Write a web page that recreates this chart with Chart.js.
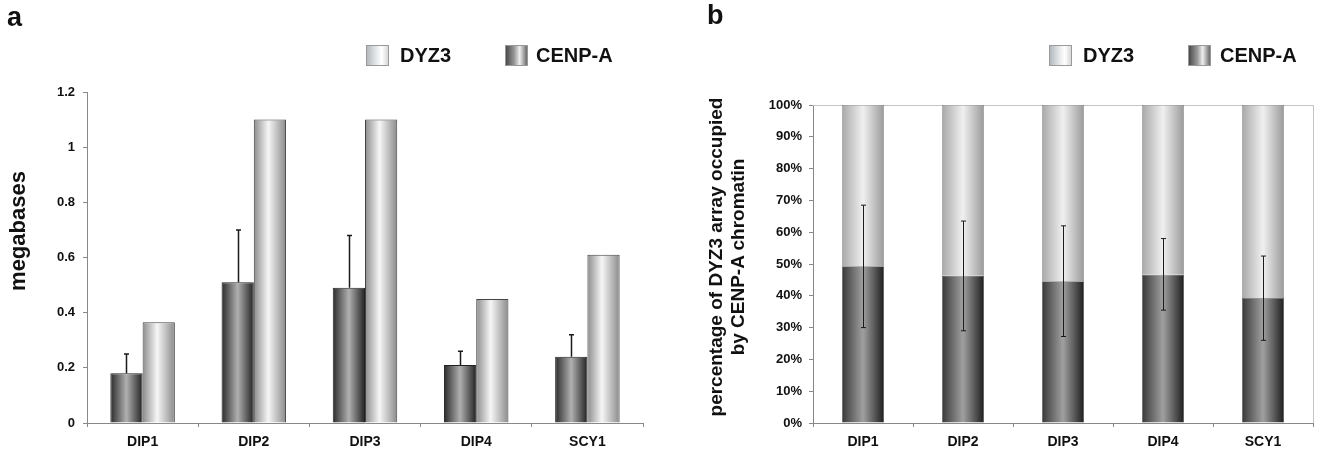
<!DOCTYPE html>
<html>
<head>
<meta charset="utf-8">
<script src="https://cdn.jsdelivr.net/npm/chart.js@4.4.1/dist/chart.umd.min.js"></script>
<style>
  html, body { margin: 0; padding: 0; background: #fff; }
  body { width: 1334px; height: 455px; position: relative; overflow: hidden;
         font-family: "Liberation Sans", Arial, sans-serif; font-weight: bold; color: #111; }
  .panel { position: absolute; top: 0; width: 667px; height: 455px; }
  .letter { position: absolute; font-size: 27px; line-height: 27px; }
  .legend { position: absolute; top: 45px; height: 21px; font-size: 20px; line-height: 21px; }
  .legend .box { position: absolute; top: 0; width: 23px; height: 21px; box-sizing: border-box; border: 1px solid #999; }
  .legend .txt { position: absolute; top: 0; white-space: nowrap; }
  .sw-dyz3 { background: linear-gradient(to right, #b4b9be 0%, #e6e9eb 45%, #ffffff 70%, #d8d8d8 100%); }
  .sw-cenpa { background: linear-gradient(to right, #4a4a4a 0%, #9a9a9a 40%, #eeeeee 65%, #6a6a6a 100%); }
  .ytitle { position: absolute; white-space: nowrap; text-align: center; transform: translate(-50%, -50%) rotate(-90deg); }
</style>
</head>
<body>

<div class="panel" style="left:0"><canvas id="chartA"></canvas></div>
<div class="panel" style="left:667px"><canvas id="chartB"></canvas></div>

<div class="letter" style="left:7px; top:4px;">a</div>
<div class="letter" style="left:707px; top:2px;">b</div>

<div class="legend" style="left:366px;">
  <div class="box sw-dyz3" style="left:0"></div><div class="txt" style="left:34px">DYZ3</div>
  <div class="box sw-cenpa" style="left:139px"></div><div class="txt" style="left:170px">CENP-A</div>
</div>
<div class="legend" style="left:1049px;">
  <div class="box sw-dyz3" style="left:0"></div><div class="txt" style="left:34px">DYZ3</div>
  <div class="box sw-cenpa" style="left:139px"></div><div class="txt" style="left:171px">CENP-A</div>
</div>

<div class="ytitle" style="left:18px; top:231px; font-size:22px;">megabases</div>
<div class="ytitle" style="left:727px; top:257px; font-size:19px; line-height:22px;">percentage of DYZ3 array occupied<br>by CENP-A chromatin</div>

<script>
// categories
const samples = ['DIP1', 'DIP2', 'DIP3', 'DIP4', 'SCY1'];

// panel a: megabases
const cenpaMb = [0.18, 0.51, 0.49, 0.21, 0.24];
const cenpaMbUpper = [0.25, 0.70, 0.68, 0.26, 0.32];
const dyz3Mb = [0.365, 1.10, 1.10, 0.45, 0.61];
const mbTicks = [0, 0.2, 0.4, 0.6, 0.8, 1, 1.2];

// panel b: percentage of DYZ3 array
const cenpaPct = [49.3, 46.3, 44.6, 46.6, 39.3];
const cenpaPctLow = [30.0, 29.0, 27.2, 35.5, 26.0];
const cenpaPctHigh = [68.5, 63.5, 62.0, 58.0, 52.5];
const dyz3Pct = cenpaPct.map(v => 100 - v);
const pctTicks = [0, 10, 20, 30, 40, 50, 60, 70, 80, 90, 100];

const FONT = '"Liberation Sans", Arial, sans-serif';

const darkStops = [[0, '#2a2a2a'], [0.5, '#b0b0b0'], [1, '#222222']];
const lightStops = [[0, '#8c8c8c'], [0.45, '#f6f6f6'], [1, '#8a8a8a']];
const darkStopsB = [[0, '#383838'], [0.5, '#a0a0a0'], [1, '#1e1e1e']];
const lightStopsB = [[0, '#a8a8a8'], [0.5, '#f0f0f0'], [1, '#9a9a9a']];

// gradient across a bar, bar position taken from the category scale
function barFill(stops, slot, slots, catPct) {
    return function(ctx) {
        const chart = ctx.chart;
        const xs = chart.scales.x;
        if (!xs || !xs.width) return stops[1][1];
        const catW = xs.width / samples.length;
        const slotW = catW * catPct / slots;
        const xc = xs.getPixelForValue(ctx.dataIndex);
        const x0 = xc - catW * catPct / 2 + slotW * slot;
        const g = chart.ctx.createLinearGradient(x0, 0, x0 + slotW, 0);
        stops.forEach(s => g.addColorStop(s[0], s[1]));
        return g;
    };
}

// error bars drawn against the chart's own y scale
function errorBarPlugin(lowArr, highArr, datasetIndex, capHalf, lineWidth, lowCap) {
    return {
        id: 'errorBars',
        afterDatasetsDraw(chart) {
            const meta = chart.getDatasetMeta(datasetIndex);
            const ys = chart.scales.y;
            const c = chart.ctx;
            c.save();
            c.strokeStyle = '#1a1a1a';
            c.lineWidth = lineWidth;
            meta.data.forEach((bar, i) => {
                const x = Math.round(bar.x) + 0.5;
                const yLow = ys.getPixelForValue(lowArr[i]);
                const yHigh = ys.getPixelForValue(highArr[i]);
                c.beginPath();
                c.moveTo(x, yLow);
                c.lineTo(x, yHigh);
                c.moveTo(x - capHalf, yHigh);
                c.lineTo(x + capHalf, yHigh);
                if (lowCap) {
                    c.moveTo(x - capHalf, yLow);
                    c.lineTo(x + capHalf, yLow);
                }
                c.stroke();
            });
            c.restore();
        }
    };
}

const frameB = {
    id: 'frame',
    beforeDatasetsDraw(chart) {
        const a = chart.chartArea;
        const c = chart.ctx;
        c.save();
        c.strokeStyle = '#c4c4c4';
        c.lineWidth = 1;
        c.beginPath();
        c.moveTo(a.left, Math.round(a.top) + 0.5);
        c.lineTo(Math.round(a.right) + 0.5, Math.round(a.top) + 0.5);
        c.lineTo(Math.round(a.right) + 0.5, a.bottom);
        c.stroke();
        c.restore();
    }
};

function tickFont(size) {
    return { family: FONT, size: size, weight: 'bold' };
}

// panel a
const catPctA = 0.58;
new Chart(document.getElementById('chartA'), {
    type: 'bar',
    data: {
        labels: samples,
        datasets: [{
            label: 'CENP-A',
            data: cenpaMb,
            backgroundColor: barFill(darkStops, 0, 2, catPctA),
            borderColor: '#222',
            borderWidth: 1,
            categoryPercentage: catPctA,
            barPercentage: 1
        }, {
            label: 'DYZ3',
            data: dyz3Mb,
            backgroundColor: barFill(lightStops, 1, 2, catPctA),
            borderColor: '#444',
            borderWidth: 1,
            categoryPercentage: catPctA,
            barPercentage: 1
        }]
    },
    options: {
        responsive: true,
        maintainAspectRatio: false,
        animation: false,
        layout: { padding: { top: 92, right: 24, bottom: 0, left: 0 } },
        plugins: { legend: { display: false }, tooltip: { enabled: false } },
        scales: {
            x: {
                afterFit: s => { s.height = 32; },
                grid: { drawOnChartArea: false, color: '#888', tickLength: 4, offset: true },
                border: { color: '#888' },
                ticks: { color: '#111', font: tickFont(14), padding: 7 }
            },
            y: {
                min: 0,
                max: 1.2,
                afterFit: s => { s.width = 87; },
                afterBuildTicks: s => { s.ticks = mbTicks.map(v => ({ value: v })); },
                grid: { drawOnChartArea: false, color: '#888', tickLength: 4 },
                border: { color: '#888' },
                ticks: { color: '#111', font: tickFont(13), padding: 8, callback: v => String(v) }
            }
        }
    },
    plugins: [errorBarPlugin(cenpaMb, cenpaMbUpper, 0, 2.5, 1.5, false)]
});

// panel b
const catPctB = 0.42;
new Chart(document.getElementById('chartB'), {
    type: 'bar',
    data: {
        labels: samples,
        datasets: [{
            label: 'CENP-A',
            data: cenpaPct,
            backgroundColor: barFill(darkStopsB, 0, 1, catPctB),
            borderColor: '#555',
            borderWidth: 0.5,
            categoryPercentage: catPctB,
            barPercentage: 1
        }, {
            label: 'DYZ3',
            data: dyz3Pct,
            backgroundColor: barFill(lightStopsB, 0, 1, catPctB),
            borderColor: '#666',
            borderWidth: 0.5,
            categoryPercentage: catPctB,
            barPercentage: 1
        }]
    },
    options: {
        responsive: true,
        maintainAspectRatio: false,
        animation: false,
        layout: { padding: { top: 105, right: 21, bottom: 0, left: 0 } },
        plugins: { legend: { display: false }, tooltip: { enabled: false } },
        scales: {
            x: {
                stacked: true,
                afterFit: s => { s.height = 32; },
                grid: { drawOnChartArea: false, color: '#888', tickLength: 4, offset: true },
                border: { color: '#888' },
                ticks: { color: '#111', font: tickFont(14), padding: 7 }
            },
            y: {
                stacked: true,
                min: 0,
                max: 100,
                afterFit: s => { s.width = 146; },
                afterBuildTicks: s => { s.ticks = pctTicks.map(v => ({ value: v })); },
                grid: { drawOnChartArea: false, color: '#888', tickLength: 4 },
                border: { color: '#888' },
                ticks: { color: '#111', font: tickFont(13), padding: 7, callback: v => v + '%' }
            }
        }
    },
    plugins: [frameB, errorBarPlugin(cenpaPctLow, cenpaPctHigh, 0, 2.5, 1, true)]
});
</script>
</body>
</html>
